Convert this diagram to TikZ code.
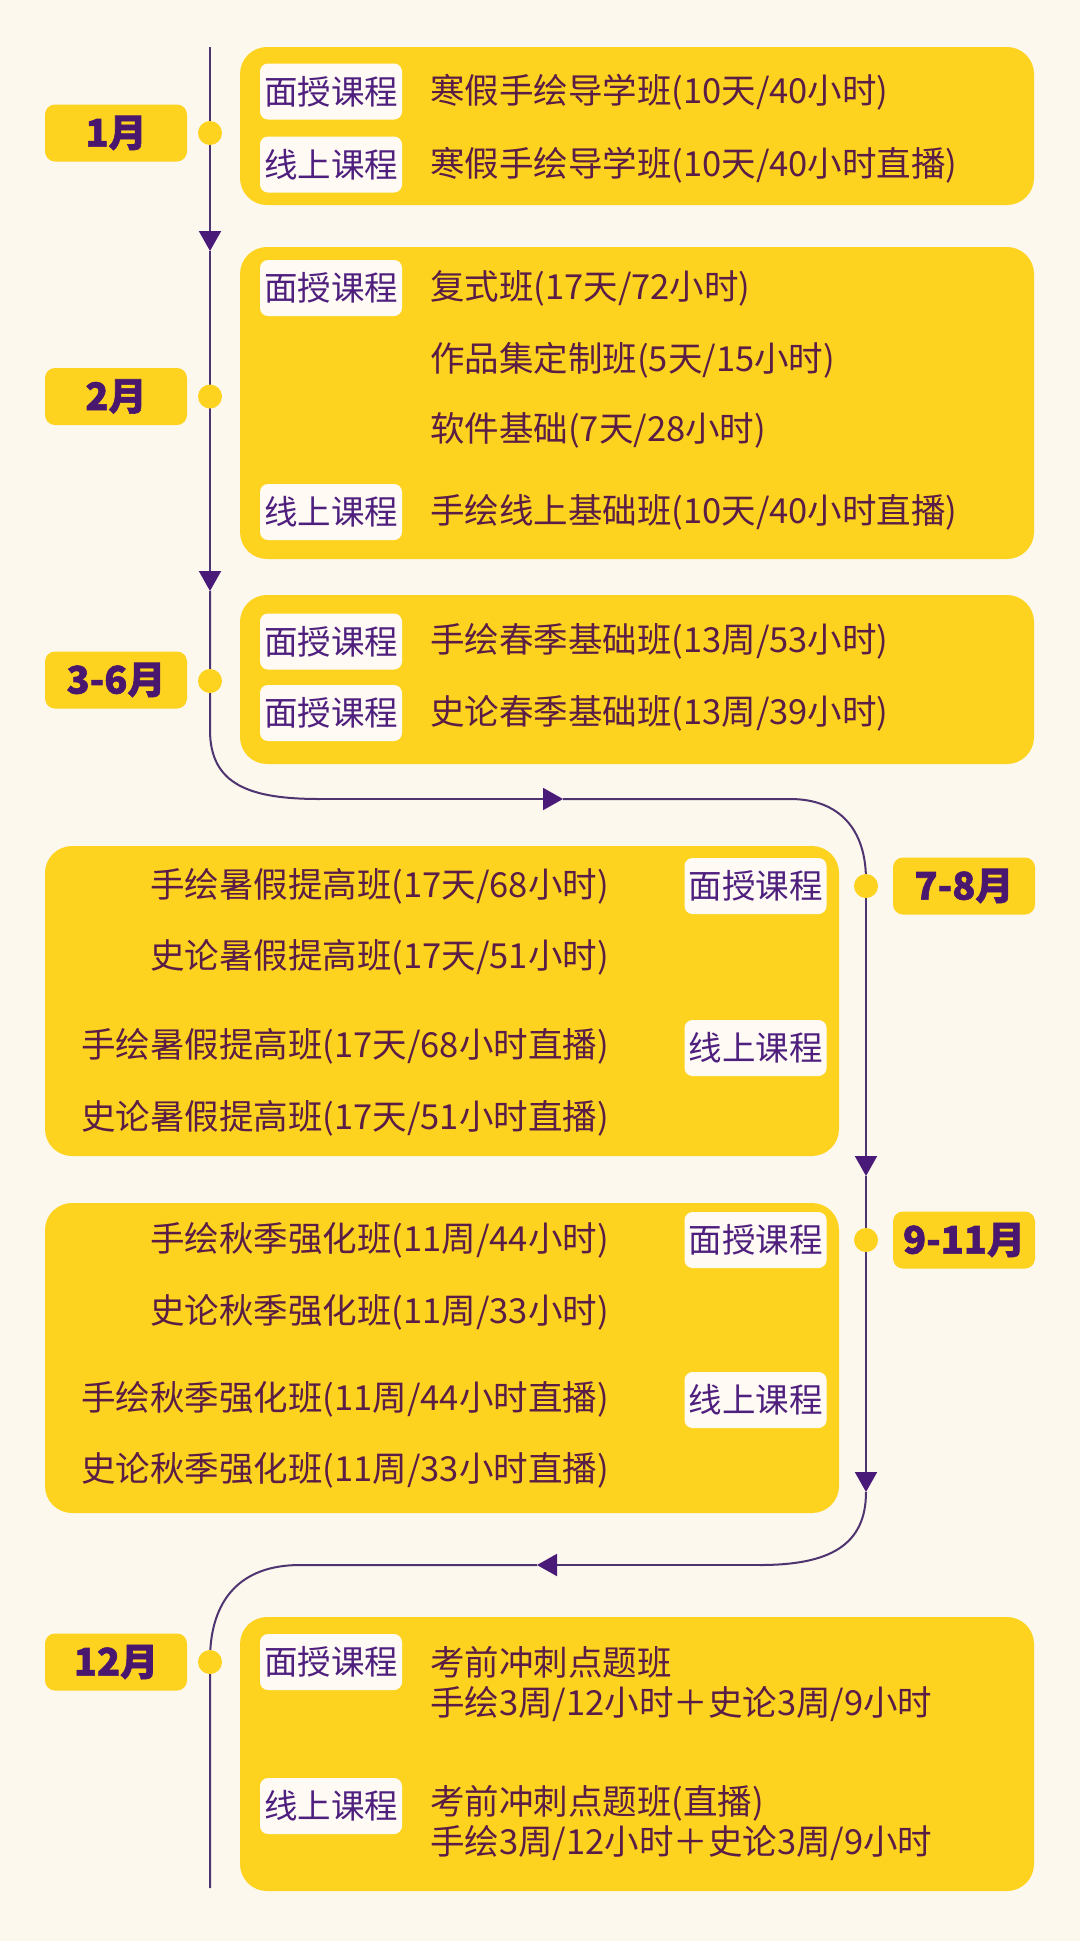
\documentclass[tikz,border=0pt]{standalone}
\usepackage{fontspec}
\setmainfont{Noto Sans CJK SC}
\newfontfamily\monthfont{Noto Sans CJK SC}[BoldFeatures={FakeBold=1.6}]
\usetikzlibrary{arrows.meta}
\definecolor{bg}{HTML}{FDF8EE}
\definecolor{yel}{HTML}{FDD31F}
\definecolor{tagw}{HTML}{FFFBF4}
\definecolor{tagtxt}{HTML}{4F1F7E}
\definecolor{crs}{HTML}{5A1D45}
\definecolor{mon}{HTML}{4A176E}
\definecolor{lin}{HTML}{4E3470}
\definecolor{arr}{HTML}{4A1A78}
\begin{document}
\begin{tikzpicture}[x=1pt,y=-1pt,
  panel/.style={fill=yel,rounded corners=27pt,minimum width=794pt,inner sep=0pt},
  monthbox/.style={fill=yel,rounded corners=10pt,minimum width=142pt,minimum height=57pt,inner sep=0pt,text=mon,font=\monthfont\fontsize{38}{42}\selectfont\bfseries},
  tagbox/.style={fill=tagw,rounded corners=8pt,minimum width=142pt,minimum height=56pt,inner sep=0pt,text=tagtxt,font=\fontsize{33.5}{38}\selectfont},
  crsw/.style={anchor=west,inner sep=0pt,text=crs,font=\fontsize{34.5}{40}\selectfont,align=left},
  crse/.style={anchor=east,inner sep=0pt,text=crs,font=\fontsize{34.5}{40}\selectfont},
  dotnode/.style={circle,fill=yel,minimum size=24pt,inner sep=0pt},
  tl/.style={draw=lin,line width=2pt},
  tip/.style={-{Triangle[width=22pt,length=20pt,fill=arr,color=arr]}}
]
\fill[bg] (0,0) rectangle (1080,1941);
\useasboundingbox (0,0) rectangle (1080,1941);

% panels
\node[panel,minimum height=158pt] (box1) at (637,126) {};
\node[panel,minimum height=312pt] (box2) at (637,403) {};
\node[panel,minimum height=169pt] (box3) at (637,679.5) {};
\node[panel,minimum height=310pt] (box4) at (442,1001) {};
\node[panel,minimum height=310pt] (box5) at (442,1358) {};
\node[panel,minimum height=274pt] (box6) at (637,1754) {};

% month labels
\node[monthbox] (m1) at (116,133) {1月};
\node[monthbox] (m2) at (116,396.5) {2月};
\node[monthbox] (m3) at (116,680) {3-6月};
\node[monthbox] (m4) at (964,886) {7-8月};
\node[monthbox] (m5) at (964,1240) {9-11月};
\node[monthbox] (m6) at (116,1662) {12月};

% timeline path
\coordinate (p0) at (210,47);
\coordinate (a1) at (210,251);
\coordinate (a2) at (210,591);
\coordinate (c1) at (210,730);
\coordinate (h1) at (320,799);
\coordinate (a3) at (563,799);
\coordinate (h2) at (790,799);
\coordinate (c2) at (866,880);
\coordinate (a4) at (866,1176);
\coordinate (a5) at (866,1492);
\coordinate (h3) at (760,1565);
\coordinate (a6) at (537,1565);
\coordinate (h4) at (300,1565);
\coordinate (c3) at (210,1660);
\coordinate (pe) at (210,1888);

\draw[tl,tip] (p0) -- (a1);
\draw[tl,tip] (a1) -- (a2);
\draw[tl] (a2) -- (c1) .. controls (210,785) and (250,799) .. (h1);
\draw[tl,tip] (h1) -- (a3);
\draw[tl] (a3) -- (h2) .. controls (840,799) and (866,830) .. (c2);
\draw[tl,tip] (c2) -- (a4);
\draw[tl,tip] (a4) -- (a5);
\draw[tl] (a5) .. controls (866,1545) and (830,1565) .. (h3);
\draw[tl,tip] (h3) -- (a6);
\draw[tl] (a6) -- (h4) .. controls (240,1565) and (210,1600) .. (c3) -- (pe);

% dots
\node[dotnode] (d1) at (210,133) {};
\node[dotnode] (d2) at (210,396.5) {};
\node[dotnode] (d3) at (210,681) {};
\node[dotnode] (d4) at (866,886) {};
\node[dotnode] (d5) at (866,1240) {};
\node[dotnode] (d6) at (210,1662) {};

% box 1
\node[tagbox] (t11) at (331,91.5) {面授课程};
\node[tagbox] (t12) at (331,164.5) {线上课程};
\node[crsw] (k11) at (430,92) {寒假手绘导学班(10天/40小时)};
\node[crsw] (k12) at (430,165) {寒假手绘导学班(10天/40小时直播)};

% box 2
\node[tagbox] (t21) at (331,288) {面授课程};
\node[tagbox] (t22) at (331,512) {线上课程};
\node[crsw] (k21) at (430,288) {复式班(17天/72小时)};
\node[crsw] (k22) at (430,360) {作品集定制班(5天/15小时)};
\node[crsw] (k23) at (430,430) {软件基础(7天/28小时)};
\node[crsw] (k24) at (430,512) {手绘线上基础班(10天/40小时直播)};

% box 3
\node[tagbox] (t31) at (331,641.5) {面授课程};
\node[tagbox] (t32) at (331,713) {面授课程};
\node[crsw] (k31) at (430,641.5) {手绘春季基础班(13周/53小时)};
\node[crsw] (k32) at (430,713) {史论春季基础班(13周/39小时)};

% box 4
\node[tagbox] (t41) at (755.5,886) {面授课程};
\node[tagbox] (t42) at (755.5,1048) {线上课程};
\node[crse] (k41) at (609,886) {手绘暑假提高班(17天/68小时)};
\node[crse] (k42) at (609,957) {史论暑假提高班(17天/51小时)};
\node[crse] (k43) at (609,1046) {手绘暑假提高班(17天/68小时直播)};
\node[crse] (k44) at (609,1118) {史论暑假提高班(17天/51小时直播)};

% box 5
\node[tagbox] (t51) at (755.5,1240) {面授课程};
\node[tagbox] (t52) at (755.5,1400) {线上课程};
\node[crse] (k51) at (609,1240) {手绘秋季强化班(11周/44小时)};
\node[crse] (k52) at (609,1312) {史论秋季强化班(11周/33小时)};
\node[crse] (k53) at (609,1399) {手绘秋季强化班(11周/44小时直播)};
\node[crse] (k54) at (609,1470) {史论秋季强化班(11周/33小时直播)};

% box 6
\node[tagbox] (t61) at (331,1662) {面授课程};
\node[tagbox] (t62) at (331,1806) {线上课程};
\node[crsw] (k61) at (430,1684) {考前冲刺点题班\\手绘3周/12小时＋史论3周/9小时};
\node[crsw] (k62) at (430,1823) {考前冲刺点题班(直播)\\手绘3周/12小时＋史论3周/9小时};
\end{tikzpicture}
\end{document}
